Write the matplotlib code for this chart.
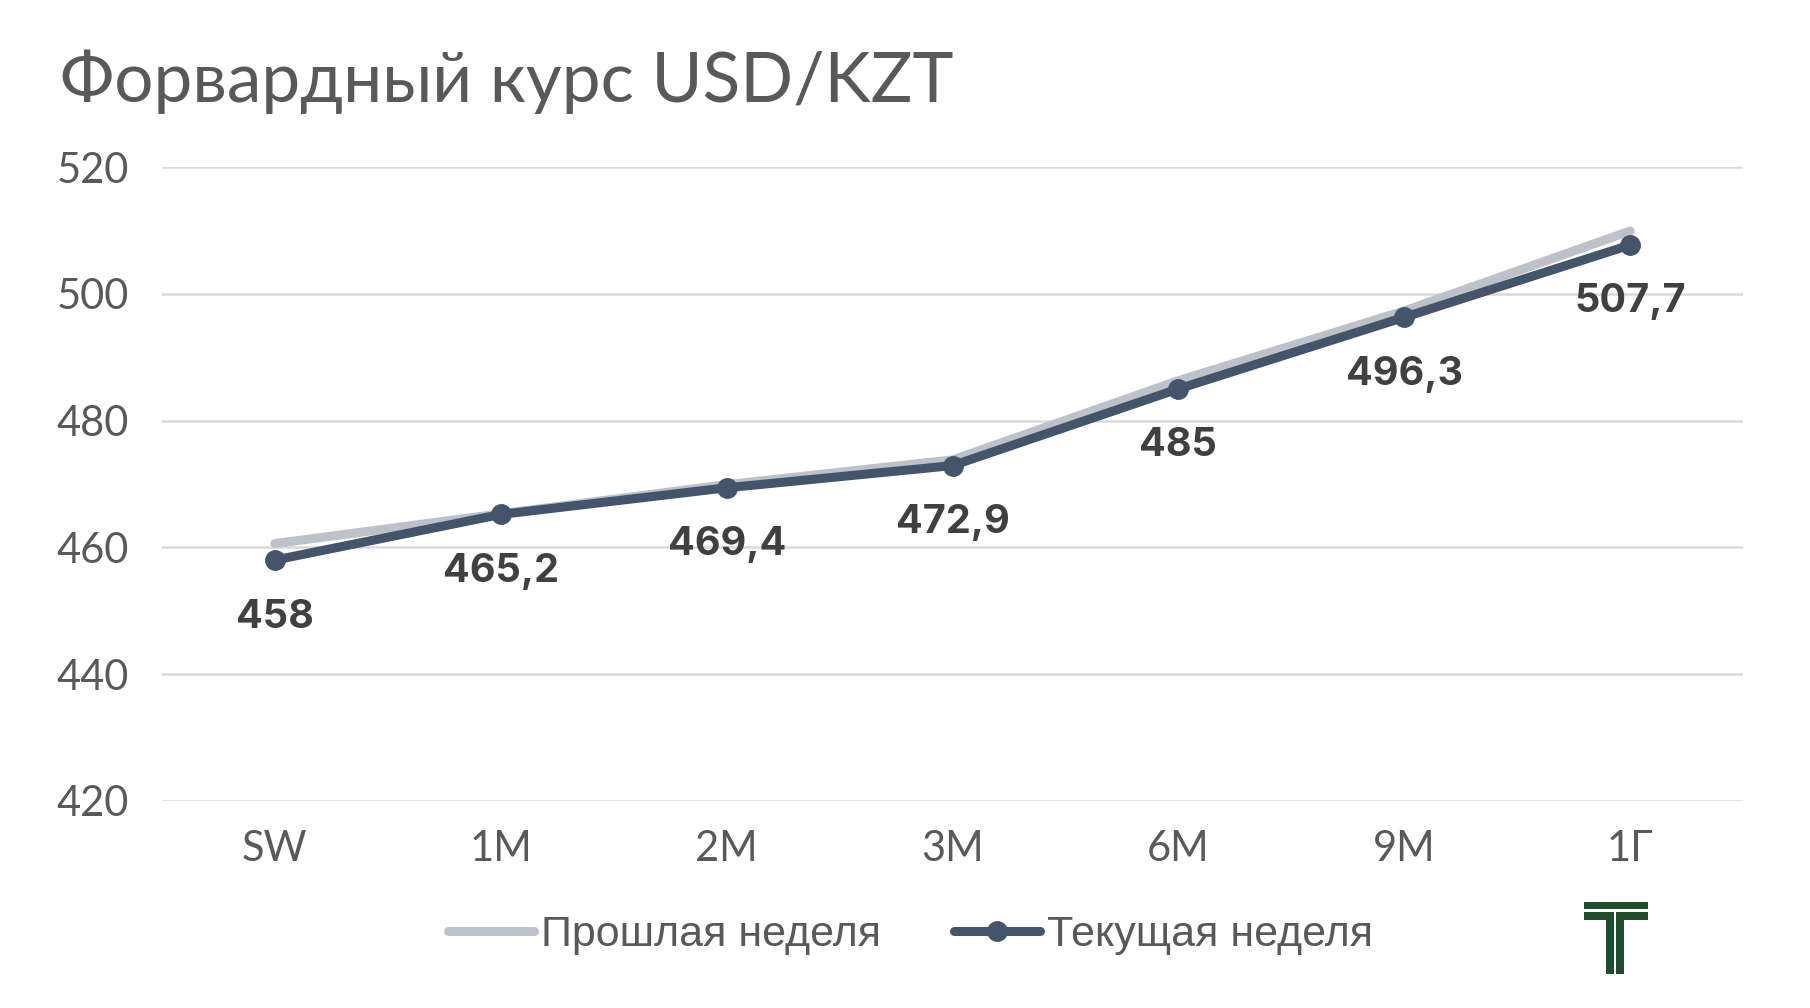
import matplotlib
matplotlib.use("Agg")
import matplotlib.pyplot as plt
from matplotlib.patches import Rectangle

# data
tenors = ["SW", "1M", "2M", "3M", "6M", "9M", "1Г"]
prev_week = [460.6, 465.3, 469.9, 473.8, 486.3, 497.3, 509.9]
curr_week = [458.0, 465.2, 469.4, 472.9, 485.0, 496.3, 507.7]
curr_labels = ["458", "465,2", "469,4", "472,9", "485", "496,3", "507,7"]
y_ticks = [420, 440, 460, 480, 500, 520]

GRAY = "#BDC1CA"
DARK = "#44546A"
TXT = "#595959"

fig = plt.figure(figsize=(18.10, 10.08), dpi=100)
ax = fig.add_axes([0.0895, 0.2054, 0.8735, 0.6289])

x = list(range(len(tenors)))
ax.plot(x, prev_week, color=GRAY, lw=6.5, solid_capstyle="round",
        label="Прошлая неделя", zorder=2)
ax.plot(x, curr_week, color=DARK, lw=6.5, solid_capstyle="round",
        marker="o", markersize=14, label="Текущая неделя", zorder=3)

for xi, yi, s in zip(x, curr_week, curr_labels):
    ax.annotate(s, (xi, yi), xytext=(0, -41), textcoords="offset points",
                ha="center", va="center", fontsize=28.5, fontweight="bold",
                family=["Inter", "DejaVu Sans"], color="#404040", zorder=4)

ax.set_xlim(-0.5, 6.5)
ax.set_ylim(420, 520)
ax.set_yticks(y_ticks)
ax.set_xticks(x)
ax.set_xticklabels(tenors)
ax.grid(axis="y", color="#D9D9D9", lw=1.8)
ax.set_axisbelow(True)
for sp in ax.spines.values():
    sp.set_visible(False)
ax.tick_params(length=0, labelsize=30, labelcolor=TXT)
ax.tick_params(axis="x", pad=21)
ax.tick_params(axis="y", pad=24)
for lab in ax.get_xticklabels() + ax.get_yticklabels():
    lab.set_family(["Lato", "DejaVu Sans"])

fig.text(0.033, 0.899, "Форвардный курс USD/KZT", fontsize=50, color=TXT,
         family=["Lato", "DejaVu Sans"], ha="left", va="baseline")

leg = fig.legend(loc="center", bbox_to_anchor=(0.503, 0.072), ncol=2,
                 frameon=False, handlelength=2.0, handletextpad=0.15,
                 columnspacing=1.7,
                 prop={"family": ["Liberation Sans", "DejaVu Sans"], "size": 31})
for t in leg.get_texts():
    t.set_color(TXT)

# logo
lx = fig.add_axes([1584 / 1810, 1 - 975 / 1008, 66 / 1810, 74 / 1008])
lx.set_xlim(0, 66)
lx.set_ylim(74, 0)
lx.axis("off")
G = "#1F4D2E"
for (x0, y0, w, h) in [(0, 1, 64, 7), (0, 11, 30, 8), (32, 11, 32, 8),
                       (22, 11, 8, 62), (32, 11, 8, 62)]:
    lx.add_patch(Rectangle((x0, y0), w, h, color=G, lw=0))

fig.savefig("out.png", dpi=100, facecolor="white")
